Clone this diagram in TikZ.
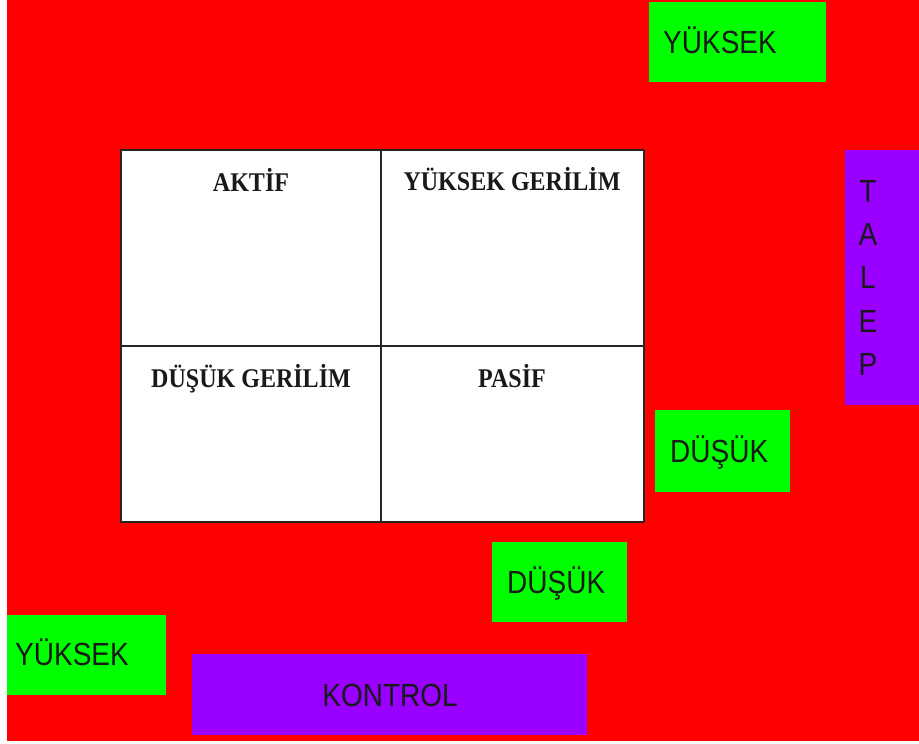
\documentclass[tikz,border=0pt]{standalone}
\usepackage{fontspec}
\setmainfont{Liberation Sans}
\newfontfamily\tnr{Liberation Serif}
\definecolor{bgred}{RGB}{255,0,0}
\definecolor{grn}{RGB}{0,255,0}
\definecolor{prp}{RGB}{153,0,255}
\newcommand{\sq}[1]{\scalebox{0.875}[1]{#1}}
\newcommand{\sqt}[1]{\scalebox{0.89}[1]{#1}}
\begin{document}
\begin{tikzpicture}[x=1pt,y=-1pt,
  gbox/.style={fill=grn, draw=none, inner sep=0, anchor=north west},
  pbox/.style={fill=prp, draw=none, inner sep=0, anchor=north west},
  lbl/.style={font=\fontsize{32}{36}\selectfont, inner sep=0, anchor=base west, text=black!90},
  lblc/.style={font=\fontsize{32}{36}\selectfont, inner sep=0, anchor=base, text=black!90},
  cell/.style={font=\tnr\bfseries\fontsize{27}{30}\selectfont, inner sep=0, anchor=base, text=black!90},
  tline/.style={draw=black!85, line width=1.6pt}
]
\useasboundingbox (0,0) rectangle (919,744);
\fill[white] (0,0) rectangle (919,744);
\fill[bgred] (7,0) rectangle (919,741);

% green boxes
\node[gbox, minimum width=177, minimum height=80] (ytop) at (649,2) {};
\node[lbl] (ytoptxt) at (663,53) {\sq{YÜKSEK}};

\node[gbox, minimum width=135, minimum height=82] (dright) at (655,410) {};
\node[lbl] (drighttxt) at (670,462) {\sq{DÜŞÜK}};

\node[gbox, minimum width=135, minimum height=80] (dbot) at (492,542) {};
\node[lbl] (dbottxt) at (507,593) {\sq{DÜŞÜK}};

\node[gbox, minimum width=159, minimum height=80] (ybot) at (7,615) {};
\node[lbl] (ybottxt) at (15,665) {\sq{YÜKSEK}};

% purple boxes
\node[pbox, minimum width=74, minimum height=255] (talep) at (845,150) {};
\node[lblc] (t1) at (868,202) {\sq{T}};
\node[lblc] (t2) at (868,245) {\sq{A}};
\node[lblc] (t3) at (868,288) {\sq{L}};
\node[lblc] (t4) at (868,332) {\sq{E}};
\node[lblc] (t5) at (868,375) {\sq{P}};

\node[pbox, minimum width=395, minimum height=81] (kontrol) at (192,654) {};
\node[lblc] (kontroltxt) at (390,706) {\sq{KONTROL}};

% table
\fill[white] (121,150) rectangle (644,522);
\draw[tline] (121,150) rectangle (644,522);
\draw[tline] (381,150) -- (381,522);
\draw[tline] (121,346) -- (644,346);

\node[cell] (aktif) at (251,191) {\sqt{AKTİF}};
\node[cell] (ygerilim) at (512,190) {\sqt{YÜKSEK GERİLİM}};
\node[cell] (dgerilim) at (251,387) {\sqt{DÜŞÜK GERİLİM}};
\node[cell] (pasif) at (512,387) {\sqt{PASİF}};
\end{tikzpicture}
\end{document}
